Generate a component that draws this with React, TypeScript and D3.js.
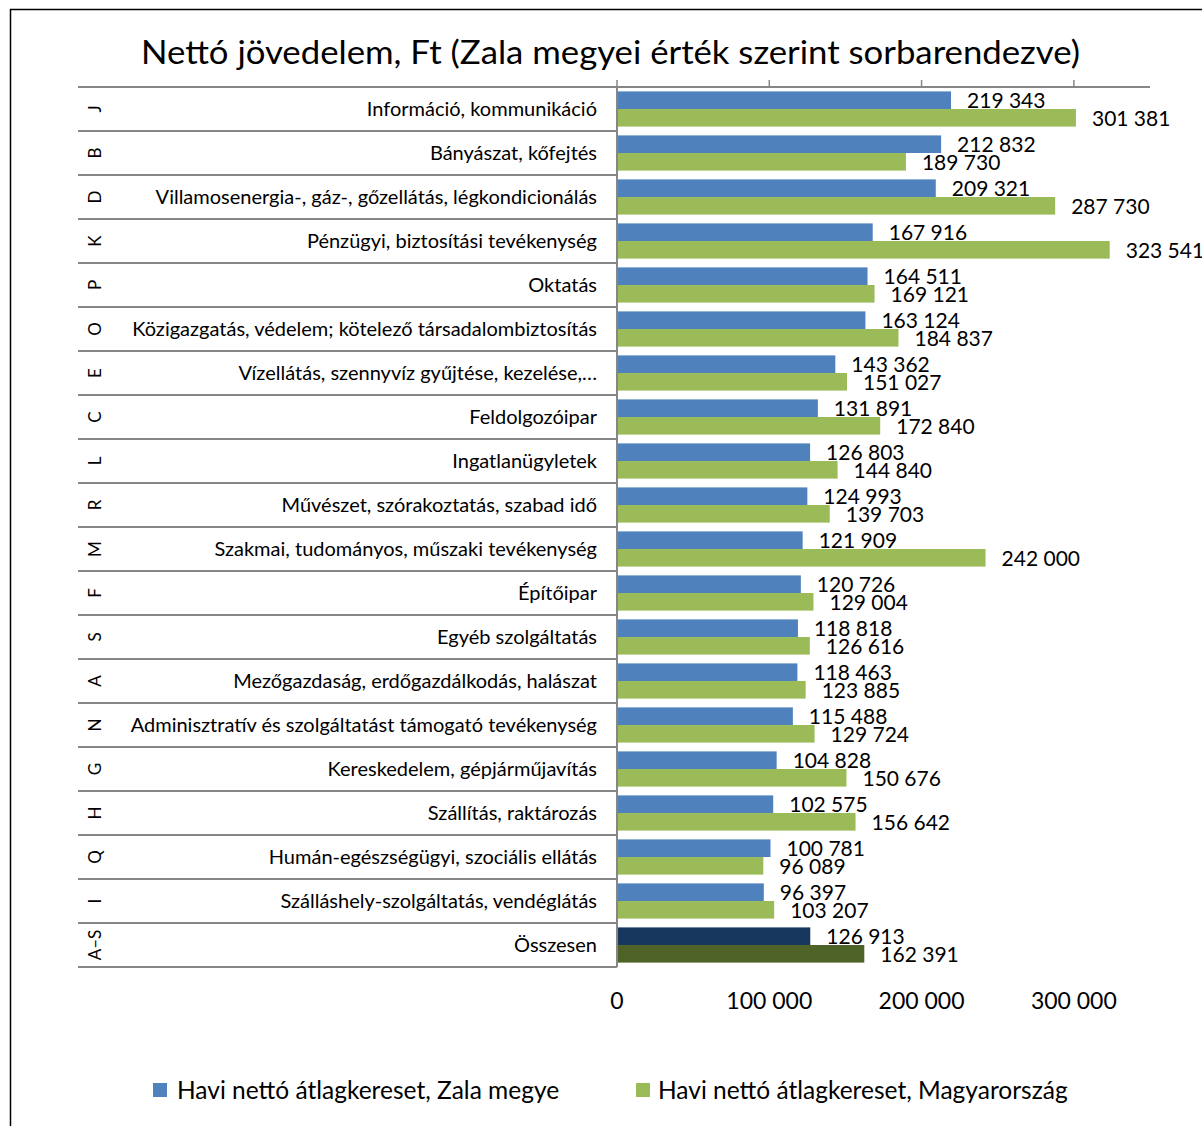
import React from "react";
import * as d3 from "d3";

const codes = ["J","B","D","K","P","O","E","C","L","R","M","F","S","A","N","G","H","Q","I","A–S"];
const categories = [
  "Információ, kommunikáció",
  "Bányászat, kőfejtés",
  "Villamosenergia-, gáz-, gőzellátás, légkondicionálás",
  "Pénzügyi, biztosítási tevékenység",
  "Oktatás",
  "Közigazgatás, védelem; kötelező társadalombiztosítás",
  "Vízellátás, szennyvíz gyűjtése, kezelése,…",
  "Feldolgozóipar",
  "Ingatlanügyletek",
  "Művészet, szórakoztatás, szabad idő",
  "Szakmai, tudományos, műszaki tevékenység",
  "Építőipar",
  "Egyéb szolgáltatás",
  "Mezőgazdaság, erdőgazdálkodás, halászat",
  "Adminisztratív és szolgáltatást támogató tevékenység",
  "Kereskedelem, gépjárműjavítás",
  "Szállítás, raktározás",
  "Humán-egészségügyi, szociális ellátás",
  "Szálláshely-szolgáltatás, vendéglátás",
  "Összesen",
];
const zala = [219343,212832,209321,167916,164511,163124,143362,131891,126803,124993,121909,120726,118818,118463,115488,104828,102575,100781,96397,126913];
const hungary = [301381,189730,287730,323541,169121,184837,151027,172840,144840,139703,242000,129004,126616,123885,129724,150676,156642,96089,103207,162391];
const xTicks = [0,100000,200000,300000];
const seriesNames = ["Havi nettó átlagkereset, Zala megye","Havi nettó átlagkereset, Magyarország"];
const colors = ["#4F81BD","#9BBB59"];
const totalColors = ["#17375E","#4F6228"];

const FONT = "Lato, 'Open Sans', sans-serif";
const fmt = (v: number) => d3.format(",")(v).replace(/,/g, " ");

export default function App() {
  const W = 1202, H = 1126;
  const x0 = 617, x1 = 1150;
  const top = 87, bottom = 967;
  const x = d3.scaleLinear().domain([0, 350000]).range([x0, x1]);
  const y = d3.scaleBand<number>().domain(d3.range(categories.length)).range([top, bottom]).paddingInner(0.2).paddingOuter(0.1);
  const sub = d3.scaleBand<number>().domain([0,1]).range([0, y.bandwidth()]);
  const step = y.step();
  const rowTop = (i: number) => top + i * step;
  const grey = "#868686";
  const n = categories.length;

  return (
    <svg width={W} height={H} style={{position:"absolute",left:0,top:0}} fontFamily={FONT}>
      <rect x={0} y={0} width={W} height={H} fill="#fff" />
      <line x1={10} y1={9.5} x2={W} y2={9.5} stroke="#000" strokeWidth={1.5} />
      <line x1={10.5} y1={9} x2={10.5} y2={H} stroke="#000" strokeWidth={1.5} />
      <text x={141} y={64} fontSize={33} fill="#000" textLength={939} lengthAdjust="spacingAndGlyphs">Nettó jövedelem, Ft (Zala megyei érték szerint sorbarendezve)</text>

      {/* row separators */}
      {d3.range(n + 1).map(i => (
        <line key={"r"+i} x1={78} x2={x0} y1={rowTop(i)} y2={rowTop(i)} stroke={grey} strokeWidth={2} />
      ))}
      {d3.range(n + 1).map(i => (
        <line key={"t"+i} x1={x0-5} x2={x0} y1={rowTop(i)} y2={rowTop(i)} stroke={grey} strokeWidth={2} />
      ))}
      {/* top axis */}
      <line x1={x0} x2={x1} y1={top} y2={top} stroke={grey} strokeWidth={2} />
      {xTicks.map(t => (
        <line key={"xt"+t} x1={x(t)} x2={x(t)} y1={top-7} y2={top} stroke={grey} strokeWidth={1.5} />
      ))}

      {/* bars */}
      {categories.map((c, i) => {
        const isTotal = i === n - 1;
        const vals = [zala[i], hungary[i]];
        return (
          <g key={"b"+i}>
            {vals.map((v, s) => {
              const by = (y(i) as number) + (sub(s) as number);
              const bh = sub.bandwidth();
              return (
                <g key={s}>
                  <rect x={x(0)} y={by} width={x(v) - x(0)} height={bh}
                    fill={isTotal ? totalColors[s] : colors[s]} />
                  <text x={x(v) + 16} y={by + bh - 1} fontSize={21} fill="#000">{fmt(v)}</text>
                </g>
              );
            })}
          </g>
        );
      })}
      <line x1={x0} x2={x0} y1={top} y2={bottom} stroke={grey} strokeWidth={2} />

      {/* category labels */}
      {categories.map((c, i) => (
        <text key={"c"+i} x={597} y={rowTop(i) + step/2} dy="0.35em" textAnchor="end" fontSize={20} fill="#000">{c}</text>
      ))}
      {codes.map((c, i) => (
        <text key={"k"+i} transform={`translate(95,${rowTop(i) + step/2}) rotate(-90)`} dy="0.35em" textAnchor="middle" fontSize={17} fill="#000">{c}</text>
      ))}

      {/* bottom tick labels */}
      {xTicks.map(t => (
        <text key={"xl"+t} x={x(t)} y={1009} textAnchor="middle" fontSize={23} fill="#000">{fmt(t)}</text>
      ))}

      {/* legend */}
      <rect x={153} y={1083} width={14} height={14} fill={colors[0]} />
      <text x={177} y={1099} fontSize={24.5} fill="#000">{seriesNames[0]}</text>
      <rect x={636} y={1083} width={14} height={14} fill={colors[1]} />
      <text x={658} y={1099} fontSize={24.5} fill="#000">{seriesNames[1]}</text>
    </svg>
  );
}
